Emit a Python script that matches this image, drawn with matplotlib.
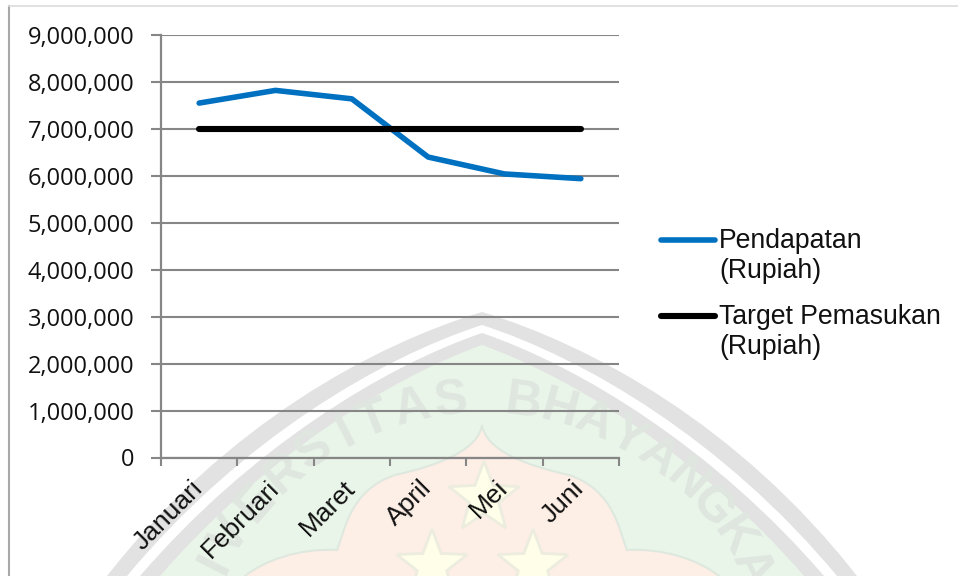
import numpy as np
import matplotlib
matplotlib.use("Agg")
import matplotlib.pyplot as plt
from matplotlib.lines import Line2D
from matplotlib.patches import PathPatch, Polygon
from matplotlib.path import Path
from matplotlib.ticker import FuncFormatter
from matplotlib.transforms import ScaledTranslation

W, H = 958, 576

months = ["Januari", "Februari", "Maret", "April", "Mei", "Juni"]
pendapatan = [7550000, 7820000, 7640000, 6400000, 6040000, 5940000]
target = [7000000, 7000000, 7000000, 7000000, 7000000, 7000000]
series_names = ["Pendapatan\n(Rupiah)", "Target Pemasukan\n(Rupiah)"]

GREY = "#868686"
BLUE = "#0070c0"


def shield(ax, left_half, color, cx=482, edge="none"):
    # left half is given as bezier points, the right half mirrors it
    pts = np.array(left_half, dtype=float)
    mirrored = pts[::-1].copy()
    mirrored[:, 0] = 2 * cx - mirrored[:, 0]
    verts = np.vstack([pts, mirrored[1:]])
    codes = [Path.MOVETO] + [Path.CURVE4] * (len(verts) - 1)
    ax.add_patch(PathPatch(Path(verts, codes), fc=color, ec=edge, lw=1.5))


def star(ax, x, y, r):
    ang = np.radians(np.arange(10) * 36 - 90)
    rad = np.where(np.arange(10) % 2 == 0, r, r * 0.42)
    ax.add_patch(Polygon(np.c_[x + rad * np.cos(ang), y + rad * np.sin(ang)],
                         fc="#fffee8", ec="#ececdf", lw=2))


fig = plt.figure(figsize=(W / 100, H / 100), dpi=100)
plt.rcParams["font.family"] = "Liberation Sans"

# university crest behind the chart, in pixel coordinates
bg = fig.add_axes([0, 0, 1, 1], zorder=0)
bg.set_xlim(0, W)
bg.set_ylim(H, 0)
bg.axis("off")

shield(bg, [(482, 312), (373, 345), (225, 425), (107, 576), (105, 600), (105, 640), (105, 700)], "#e2e2e2")
shield(bg, [(482, 325), (380, 358), (240, 440), (127, 576), (125, 600), (125, 640), (125, 700)], "white")
shield(bg, [(482, 333), (385, 366), (250, 448), (140, 576), (138, 600), (138, 640), (138, 700)], "#e2e2e2")
shield(bg, [(482, 345), (390, 378), (262, 458), (160, 576), (158, 600), (158, 640), (158, 700)], "#e9f5e8")

# pink inner shape with its pointed top and side lobes
shield(bg, [(482, 425), (478, 450), (440, 465), (395, 475),
            (350, 490), (345, 530), (337, 550),
            (300, 548), (265, 560), (245, 576),
            (235, 600), (235, 650), (235, 700)],
       "#fdeee6", edge="#dfe8df")

star(bg, 484, 498, 37)
star(bg, 432, 566, 37)
star(bg, 533, 566, 37)

# letters sit on a circle around the crest
crest_letters = "UNIVERSITASBHAYANGKARA"
crest_angles = [-78, -70, -63, -57, -49, -41, -34, -27, -21, -13.5, -6,
                8, 15, 22, 29, 36, 43, 50, 57, 64, 71, 78]
for ch, a in zip(crest_letters, crest_angles):
    t = np.radians(a)
    bg.text(482 + 300 * np.sin(t), 700 - 300 * np.cos(t), ch, rotation=-a,
            rotation_mode="anchor", ha="center", va="center",
            fontsize=36, fontweight="bold", color="#dfe6df")

# page frame
fig.add_artist(Line2D([9 / W, 9 / W], [0, 1 - 6 / H], color="#a8a8a8", lw=1.5))
fig.add_artist(Line2D([9 / W, 1], [1 - 6 / H, 1 - 6 / H], color="#dcdcdc", lw=1.2))

ax = fig.add_axes([161 / W, 1 - 457.5 / H, (619 - 161) / W, (457.5 - 35) / H], zorder=1)
ax.patch.set_alpha(0)

x = np.arange(len(months)) + 0.5
line1, = ax.plot(x, pendapatan, color=BLUE, lw=4, solid_capstyle="round", solid_joinstyle="round", zorder=3)
line2, = ax.plot(x, target, color="black", lw=4.4, solid_capstyle="round", zorder=4)

ax.set_xlim(0, len(months))
ax.set_ylim(0, 9000000)
ax.set_yticks(np.arange(0, 9000001, 1000000))
ax.yaxis.set_major_formatter(FuncFormatter(lambda v, p: f"{int(v):,}"))
ax.set_xticks(np.arange(len(months) + 1))
ax.set_xticklabels([])
ax.set_xticks(x, minor=True)
ax.set_xticklabels(months, minor=True, rotation=45, ha="right", va="top", rotation_mode="anchor", fontsize=19, color="#111111")

ax.grid(axis="y", color=GREY, lw=1.5, zorder=1)
ax.set_axisbelow(True)
for s in ["top", "right"]:
    ax.spines[s].set_visible(False)
for s in ["left", "bottom"]:
    ax.spines[s].set_color(GREY)
    ax.spines[s].set_linewidth(1.6)

ax.tick_params(axis="y", which="major", color=GREY, width=1.5, length=7)
ax.tick_params(axis="x", which="major", color=GREY, width=1.5, length=5.5)
ax.tick_params(axis="x", which="minor", length=0, pad=14)
ax.tick_params(axis="y", labelsize=17, pad=12, labelcolor="#111111")
for lab in ax.get_yticklabels():
    lab.set_fontfamily("Open Sans")

# shift the slanted month names so they end just past their category centre
# (has to come after tick_params, which resets the label transforms)
shift = ScaledTranslation(-9 / 100, 1 / 100, fig.dpi_scale_trans)
for lab in ax.get_xticklabels(minor=True):
    lab.set_transform(lab.get_transform() + shift)

# legend entries: key line level with the first text row
legend_y = [240, 316]
for ln, name, y in zip([line1, line2], series_names, legend_y):
    fig.add_artist(Line2D([661 / W, 715 / W], [1 - y / H, 1 - y / H], color=ln.get_color(),
                          lw=ln.get_linewidth(), solid_capstyle="round"))
    fig.text(719 / W, 1 - (y - 12) / H, name, fontsize=19.2, va="top", ha="left",
             linespacing=1.22, color="#111111")

fig.savefig("out.png", dpi=100)
